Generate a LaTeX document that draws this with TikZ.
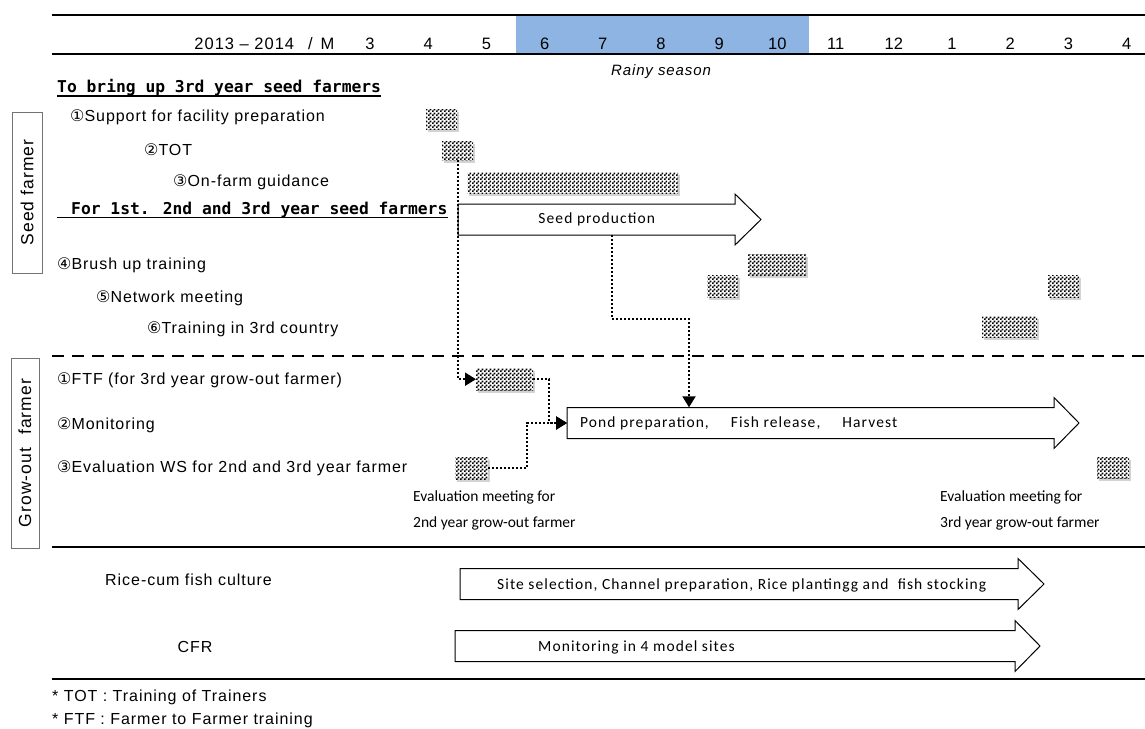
\documentclass[tikz,border=0pt]{standalone}
\usepackage{fontspec}
\setmainfont{Liberation Sans}
\newfontfamily\gothic{Liberation Sans}[LetterSpace=6]
\newfontfamily\headfont{DejaVu Sans Mono}
\newfontfamily\calib{Carlito}
\newfontfamily\calibsp{Carlito}[LetterSpace=7]
\newfontfamily\symf{DejaVu Sans}
\usetikzlibrary{positioning,shadows,patterns,arrows.meta,calc}
\definecolor{rainy}{RGB}{141,180,226}
\newcommand{\cn}[1]{{\symf #1}}
\pgfdeclarepatternformonly{checker}{\pgfqpoint{0pt}{0pt}}{\pgfqpoint{4pt}{4pt}}{\pgfqpoint{4pt}{4pt}}{%
  \pgfpathrectangle{\pgfqpoint{0pt}{0pt}}{\pgfqpoint{2pt}{2pt}}%
  \pgfpathrectangle{\pgfqpoint{2pt}{2pt}}{\pgfqpoint{2pt}{2pt}}%
  \pgfusepath{fill}}
\newcommand{\chkbox}[5]{% name, x1, y1, x2, y2
  \node[chk, minimum width={#4-#2}, minimum height={#5-#3}, anchor=north west] (#1) at (#2,#3) {};}
\newcommand{\blockarrow}[6]{% name, x left, x head, x tip, y centre, text
  \draw[blk] (#2,#5-15.5) -- (#3,#5-15.5) -- (#3,#5-25.5) -- (#4,#5) -- (#3,#5+25.5) -- (#3,#5+15.5) -- (#2,#5+15.5) -- cycle;
  \node[inner sep=0pt, minimum width={#3-#2}, minimum height=31, anchor=west, font=\calibsp\fontsize{15.5}{17}\selectfont] (#1) at (#2,#5) {#6};}
\tikzset{
  chk/.style={drop shadow={shadow xshift=2pt, shadow yshift=-2.5pt, opacity=0.35},
    preaction={fill=white}, pattern=checker, inner sep=0pt},
  blk/.style={draw, line width=1pt, fill=white},
  flow/.style={line width=2pt, dash pattern=on 2pt off 2pt, -{Triangle[length=11pt,width=13pt]}},
  sidebox/.style={draw=black!55, line width=1pt, inner sep=0pt, font=\gothic\fontsize{17.5}{19}\selectfont},
  lbl/.style={anchor=west, inner sep=0pt, font=\gothic\fontsize{16}{18}\selectfont},
  head/.style={anchor=west, inner sep=0pt, font=\headfont\bfseries\fontsize{16.3}{18}\selectfont},
  note/.style={anchor=west, inner sep=0pt, font=\calib\fontsize{15.5}{26}\selectfont, align=left},
  atext/.style={anchor=west, inner sep=0pt, font=\calibsp\fontsize{15.5}{17}\selectfont}
}
\begin{document}
\begin{tikzpicture}[x=1pt,y=-1pt]
\useasboundingbox (0,0) rectangle (1145,728);

% header
\fill[rainy](516,16) rectangle (809,53);
\draw[line width=2pt](52,15) -- (1145,15);
\draw[line width=2.5pt](52,54) -- (1145,54);
\draw(338,44) node[anchor=east, font=\gothic\fontsize{16.5}{18}\selectfont] (yr) {2013 – 2014\hspace{14pt}/\hspace{8pt}M};
\foreach \m [count=\i from 0] in {3,4,...,12,1,2,3,4}
  \draw(370+58.2*\i,44) node[font=\fontsize{16.5}{18}\selectfont] (m\i) {\m};
\draw(661,72) node[font=\gothic\itshape\fontsize{15}{17}\selectfont] (rainy) {Rainy season};

% seed farmer
\node[sidebox, rotate=90, minimum width=161, minimum height=30] (seedf) at (27,192.5) {Seed farmer};
\draw(57,88) node[head] (h1) {To bring up 3rd year seed farmers};
\draw[line width=1.6pt]([yshift=-3pt]h1.base west) -- ([yshift=-3pt]h1.base east);
\draw(70,117) node[lbl] (l1) {\cn{①}Support for facility preparation};
\draw(144,150) node[lbl] (l2) {\cn{②}TOT};
\draw(173,182) node[lbl] (l3) {\cn{③}On-farm guidance};
\draw(57,210) node[head] (h2) {\hspace*{14pt}For 1st. 2nd and 3rd year seed farmers};
\draw[line width=1.6pt]([yshift=-3pt]h2.base west) -- ([yshift=-3pt]h2.base east);
\draw(57,265) node[lbl] (l4) {\cn{④}Brush up training};
\draw(96,298) node[lbl] (l5) {\cn{⑤}Network meeting};
\draw(147,329) node[lbl] (l6) {\cn{⑥}Training in 3rd country};

\chkbox{sup}{426}{109}{457}{129}
\chkbox{tot}{442}{141}{473}{160}
\chkbox{onfarm}{467}{172}{678}{193}
\chkbox{brush}{748}{254}{806}{275}
\chkbox{net1}{707}{275}{738}{297}
\chkbox{net2}{1048}{275}{1079}{297}
\chkbox{third}{982}{316}{1037}{337}
\blockarrow{seed}{458}{735}{761}{219.5}{Seed production}

\draw[line width=2pt, dash pattern=on 12pt off 8pt](52,356) -- (1145,356);

% grow-out farmer
\node[sidebox, rotate=90, minimum width=190, minimum height=28] (growf) at (25,453) {Grow-out\hspace{13pt}farmer};
\draw(57,380) node[lbl] (g1) {\cn{①}FTF (for 3rd year grow-out farmer)};
\draw(57,425) node[lbl] (g2) {\cn{②}Monitoring};
\draw(57,468) node[lbl] (g3) {\cn{③}Evaluation WS for 2nd and 3rd year farmer};

\chkbox{ftf}{476}{368}{533}{390}
\chkbox{eval1}{455}{457}{488}{479}
\chkbox{eval2}{1097}{457}{1129}{478}
\blockarrow{pond}{567}{1054}{1079}{423}{}
\draw([xshift=13pt]pond.west) node[atext] (pondtxt) {Pond preparation,\hspace{22pt}Fish release,\hspace{22pt}Harvest};
\draw(413,510) node[note] (ev1) {Evaluation meeting for\\2nd year grow-out farmer};
\draw(940,510) node[note] (ev2) {Evaluation meeting for\\3rd year grow-out farmer};

\draw[flow](tot.south) |- (ftf.west);
\draw[flow](ftf.east) -- ++(16,0) |- (pond.west);
\draw[flow](eval1.east) -- ++(39,0) |- (pond.west);
\coordinate (bend) at (689,319);
\draw[flow]([xshift=154pt]seed.south west) |- (bend) -- (bend |- pond.north);

\draw[line width=2pt](52,547) -- (1145,547);

% rice-cum and CFR
\draw(105,580) node[lbl] (rice) {Rice-cum fish culture};
\draw(195,647) node[font=\gothic\fontsize{16}{18}\selectfont] (cfr) {CFR};
\blockarrow{ricearr}{460}{1018}{1044}{584}{}
\draw(497,585) node[atext] (ricetxt) {Site selection, Channel preparation, Rice plantingg and\ \ fish stocking};
\blockarrow{cfrarr}{455}{1015}{1040}{646}{}
\draw(538,647) node[atext] (cfrtxt) {Monitoring in 4 model sites};

\draw[line width=2pt](52,679) -- (1145,679);
\draw(52,697) node[lbl] (fn1) {* TOT : Training of Trainers};
\draw(52,720) node[lbl] (fn2) {* FTF : Farmer to Farmer training};
\end{tikzpicture}
\end{document}
